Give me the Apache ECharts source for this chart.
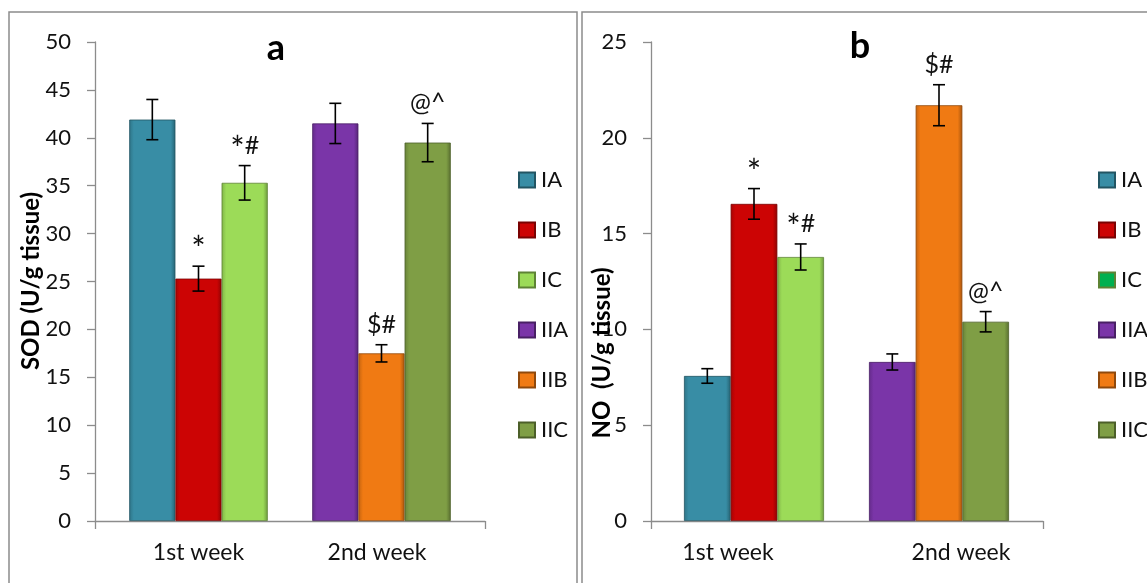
<!DOCTYPE html>
<html>
<head>
<meta charset="utf-8">
<script src="https://cdn.jsdelivr.net/npm/echarts@6/dist/echarts.min.js"></script>
<style>
html,body{margin:0;padding:0;background:#fff;}
#chart{width:1147px;height:583px;}
</style>
</head>
<body>
<div id="chart"></div>
<script>
// ---------- data ----------
const categories = ['1st week', '2nd week'];
const groups = ['IA', 'IB', 'IC', 'IIA', 'IIB', 'IIC'];
const sodMean = [41.9, 25.3, 35.3, 41.5, 17.5, 39.5];
const sodErr  = [2.1, 1.3, 1.8, 2.1, 0.9, 2.0];
const sodMarks = ['', '*', '*#', '', '$#', '@^'];
const noMean = [7.57, 16.55, 13.78, 8.3, 21.7, 10.4];
const noErr  = [0.38, 0.8, 0.68, 0.42, 1.07, 0.53];
const noMarks = ['', '*', '*#', '', '$#', '@^'];
const sodAxis = {min: 0, max: 50, step: 5};
const noAxis = {min: 0, max: 25, step: 5};
const sodTitle = 'SOD (U/g tissue)';
const noTitle = 'NO  (U/g tissue)';
const panelLetters = ['a', 'b'];

// ---------- styles ----------
const colors = ['#388DA5', '#CC0404', '#9CDB58', '#7A35A8', '#F07A13', '#7F9E45'];
const legendColorsB = ['#388DA5', '#CC0404', '#00B050', '#7A35A8', '#F07A13', '#7F9E45'];
const FONT = 'Lato, "Open Sans", sans-serif';
const GAP = 0.243;

function shade(hex, f) {
  const n = parseInt(hex.slice(1), 16);
  let r = (n >> 16) & 255, g = (n >> 8) & 255, b = n & 255;
  r = Math.round(r * f); g = Math.round(g * f); b = Math.round(b * f);
  return 'rgb(' + r + ',' + g + ',' + b + ')';
}
function barFill(c) {
  return new echarts.graphic.LinearGradient(0, 0, 1, 0, [
    {offset: 0, color: shade(c, 0.82)},
    {offset: 0.1, color: c},
    {offset: 0.9, color: c},
    {offset: 1, color: shade(c, 0.7)}
  ]);
}
function markRich(s) {
  return s.split('').map(ch => ch === '*' ? '{s|*}' : '{n|' + ch + '}').join('');
}

const chart = echarts.init(document.getElementById('chart'), null, {renderer: 'canvas'});

const panels = [
  {mean: sodMean, err: sodErr, marks: sodMarks, axis: sodAxis,
   axisGrid: {left: 95, right: 662, top: 42, bottom: 62},
   barGrid: {left: 107, right: 674, top: 42, bottom: 62},
   labelPad: [[0, 0, 0, 0], [0, 9, 0, 0]],
   legendLeft: 518, legendColors: colors},
  {mean: noMean, err: noErr, marks: noMarks, axis: noAxis,
   axisGrid: {left: 651, right: 104, top: 42, bottom: 62},
   barGrid: {left: 661.5, right: 115.5, top: 42, bottom: 62},
   labelPad: [[0, 52, 0, 0], [0, 0, 0, 44]],
   legendLeft: 1098, legendColors: legendColorsB}
];

const grid = [], xAxis = [], yAxis = [], series = [], legend = [];
panels.forEach((p, pi) => {
  const gA = grid.length;
  grid.push(p.axisGrid);
  grid.push(p.barGrid);
  // visible frame axes
  xAxis.push({gridIndex: gA, type: 'value', min: 0, max: 1, interval: 1,
    axisLine: {show: true, lineStyle: {color: '#8C8C8C', width: 1.3}},
    axisTick: {show: true, length: 8, lineStyle: {color: '#8C8C8C', width: 1.3}},
    axisLabel: {show: false}, splitLine: {show: false}});
  yAxis.push({gridIndex: gA, type: 'value', min: p.axis.min, max: p.axis.max, interval: p.axis.step,
    axisLine: {show: true, lineStyle: {color: '#8C8C8C', width: 1.3}},
    axisTick: {show: true, length: 8, lineStyle: {color: '#8C8C8C', width: 1.3}},
    axisLabel: {fontSize: 22, fontFamily: FONT, color: '#111', margin: 24},
    splitLine: {show: false}});
  // bar axes
  const rich = {};
  p.labelPad.forEach((pad, k) => { rich['c' + k] = {fontSize: 23, fontFamily: FONT, color: '#111', padding: pad}; });
  xAxis.push({gridIndex: gA + 1, type: 'category', data: categories,
    axisLine: {show: false}, axisTick: {show: false},
    axisLabel: {margin: 20, formatter: (v, idx) => '{c' + idx + '|' + v + '}', rich: rich}});
  yAxis.push({gridIndex: gA + 1, type: 'value', min: p.axis.min, max: p.axis.max, show: false});

  groups.forEach((g, i) => {
    const cat = i < 3 ? 0 : 1;
    const slot = i % 3;
    const d = categories.map((c, ci) => ci === cat ? p.mean[i] : '-');
    series.push({
      type: 'bar', name: g, xAxisIndex: gA + 1, yAxisIndex: gA + 1,
      stack: 'p' + pi + 's' + slot, data: d,
      barCategoryGap: (GAP * 100) + '%', barGap: '0%',
      itemStyle: {color: barFill(colors[i]), borderColor: shade(colors[i], 0.6), borderWidth: 0.8},
      emphasis: {disabled: true}
    });
  });

  // error bars + significance marks
  const errData = groups.map((g, i) => [i < 3 ? 0 : 1, i % 3, p.mean[i], p.err[i]]);
  series.push({
    type: 'custom', xAxisIndex: gA + 1, yAxisIndex: gA + 1, z: 10,
    data: errData, silent: true,
    renderItem: function (params, api) {
      const cat = api.value(0), slot = api.value(1), m = api.value(2), e = api.value(3);
      const center = api.coord([cat, 0]);
      const band = api.size([1, 0])[0];
      const bw = band * (1 - GAP) / 3;
      const x = center[0] + (slot - 1) * bw;
      const yT = api.coord([cat, m + e])[1];
      const yB = api.coord([cat, m - e])[1];
      const cap = 6;
      const ls = {stroke: '#000', lineWidth: 1.6};
      const mark = p.marks[params.dataIndex];
      const children = [
        {type: 'line', shape: {x1: x, y1: yT, x2: x, y2: yB}, style: ls},
        {type: 'line', shape: {x1: x - cap, y1: yT, x2: x + cap, y2: yT}, style: ls},
        {type: 'line', shape: {x1: x - cap, y1: yB, x2: x + cap, y2: yB}, style: ls}
      ];
      if (mark) {
        children.push({type: 'text', style: {text: markRich(mark), x: x, y: yT - 20, align: 'center',
          verticalAlign: 'middle', fontSize: 25, fontFamily: FONT, fill: '#111',
          rich: {
            s: {fontSize: 34, fontFamily: FONT, fill: '#111', lineHeight: 30, verticalAlign: 'middle', padding: [8, 0, 0, 0]},
            n: {fontSize: 25, fontFamily: FONT, fill: '#111', lineHeight: 30, verticalAlign: 'middle'}
          }}});
      }
      return {type: 'group', children: children};
    }
  });

  legend.push({
    orient: 'vertical', left: p.legendLeft, top: 169, padding: 0, itemWidth: 16, itemHeight: 15, itemGap: 28,
    icon: 'rect', selectedMode: false,
    textStyle: {fontSize: 22, lineHeight: 20, fontFamily: FONT, color: '#111', padding: [0, 0, 0, 1]},
    data: groups.map((g, i) => ({name: g, itemStyle: {color: p.legendColors[i]}}))
  });
});

const graphic = [
  {type: 'rect', shape: {x: 9, y: 12, width: 568, height: 600}, style: {fill: 'none', stroke: '#8C8C8C', lineWidth: 1.5}, silent: true},
  {type: 'rect', shape: {x: 582, y: 12, width: 600, height: 600}, style: {fill: 'none', stroke: '#8C8C8C', lineWidth: 1.5}, silent: true},
  {type: 'text', x: 276, y: 48, style: {text: panelLetters[0], align: 'center', verticalAlign: 'middle', fontSize: 36, fontWeight: 'bold', fontFamily: FONT, fill: '#000'}, z: 20},
  {type: 'text', x: 860, y: 46, style: {text: panelLetters[1], align: 'center', verticalAlign: 'middle', fontSize: 36, fontWeight: 'bold', fontFamily: FONT, fill: '#000'}, z: 20},
  {type: 'text', x: 31, y: 281, rotation: Math.PI / 2, style: {text: sodTitle, align: 'center', verticalAlign: 'middle', fontSize: 24, fontWeight: 'bold', fontFamily: FONT, fill: '#000'}, z: 20},
  {type: 'text', x: 602, y: 353, rotation: Math.PI / 2, style: {text: noTitle, align: 'center', verticalAlign: 'middle', fontSize: 24, fontWeight: 'bold', fontFamily: FONT, fill: '#000'}, z: 20}
];

chart.setOption({
  animation: false,
  backgroundColor: '#fff',
  grid: grid, xAxis: xAxis, yAxis: yAxis, series: series, legend: legend, graphic: graphic
});
</script>
</body>
</html>
